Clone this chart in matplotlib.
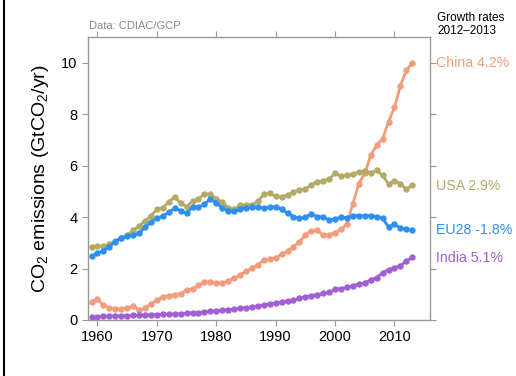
import numpy as np
import matplotlib.pyplot as plt
from matplotlib.lines import Line2D

plt.rcParams['font.family'] = ['Liberation Sans', 'DejaVu Sans']
plt.rcParams['mathtext.fontset'] = 'custom'
plt.rcParams['mathtext.rm'] = 'Liberation Sans'
plt.rcParams['mathtext.it'] = 'Liberation Sans:italic'

# Data (GtCO2/yr), 1959-2013
years = np.arange(1959, 2014)

china = [0.71, 0.80, 0.58, 0.45, 0.43, 0.43, 0.46, 0.54, 0.40, 0.47,
         0.62, 0.78, 0.90, 0.95, 0.99, 1.02, 1.17, 1.21, 1.35, 1.47,
         1.48, 1.44, 1.42, 1.53, 1.62, 1.74, 1.90, 2.02, 2.15, 2.32,
         2.38, 2.42, 2.56, 2.68, 2.85, 3.03, 3.32, 3.47, 3.48, 3.30,
         3.31, 3.40, 3.52, 3.72, 4.52, 5.30, 5.70, 6.40, 6.80, 7.05,
         7.70, 8.27, 9.10, 9.70, 10.00]

usa = [2.82, 2.88, 2.86, 2.95, 3.06, 3.17, 3.30, 3.48, 3.65, 3.85,
       4.05, 4.30, 4.35, 4.60, 4.78, 4.55, 4.40, 4.62, 4.72, 4.88,
       4.90, 4.72, 4.58, 4.35, 4.30, 4.45, 4.48, 4.48, 4.62, 4.88,
       4.95, 4.80, 4.78, 4.86, 4.98, 5.05, 5.10, 5.25, 5.38, 5.42,
       5.48, 5.70, 5.60, 5.62, 5.67, 5.76, 5.80, 5.72, 5.82, 5.62,
       5.28, 5.42, 5.30, 5.08, 5.24]

eu28 = [2.47, 2.60, 2.70, 2.85, 3.05, 3.20, 3.25, 3.30, 3.38, 3.60,
        3.80, 3.95, 4.05, 4.18, 4.35, 4.25, 4.15, 4.38, 4.38, 4.50,
        4.70, 4.55, 4.35, 4.25, 4.22, 4.30, 4.36, 4.38, 4.38, 4.36,
        4.38, 4.40, 4.30, 4.15, 4.02, 3.95, 4.00, 4.12, 4.02, 4.00,
        3.90, 3.92, 4.00, 3.98, 4.05, 4.06, 4.05, 4.06, 4.02, 3.95,
        3.62, 3.72, 3.58, 3.53, 3.48]

india = [0.12, 0.13, 0.14, 0.15, 0.16, 0.16, 0.17, 0.18, 0.18, 0.19,
         0.20, 0.21, 0.22, 0.22, 0.23, 0.24, 0.26, 0.28, 0.29, 0.31,
         0.33, 0.35, 0.37, 0.40, 0.42, 0.45, 0.48, 0.51, 0.55, 0.58,
         0.62, 0.66, 0.70, 0.74, 0.78, 0.84, 0.90, 0.95, 0.99, 1.03,
         1.07, 1.19, 1.22, 1.27, 1.33, 1.40, 1.45, 1.55, 1.65, 1.83,
         1.96, 2.03, 2.10, 2.30, 2.43]

labels = ['China 4.2%', 'USA 2.9%', 'EU28 -1.8%', 'India 5.1%']
colors = ['#F29C7E', '#B4AA68', '#2E8FF0', '#A15FD2']
label_y = [10.0, 5.2, 3.5, 2.4]

fig = plt.figure(figsize=(5.16, 3.76), dpi=100)
ax = fig.add_axes([0.1705, 0.149, 0.663, 0.7526])

for series, c in zip([china, usa, eu28, india], colors):
    ax.plot(years, series, '-o', color=c, lw=2, ms=3.6, mec=c, mfc=c)

ax.set_xlim(1958.4, 2016)
ax.set_ylim(0, 11)
ax.set_xticks(np.arange(1960, 2011, 10))
ax.set_yticks(np.arange(0, 11, 2))

for s in ax.spines.values():
    s.set_color('#999999')
    s.set_linewidth(1)
ax.tick_params(direction='out', length=4, color='#999999', labelsize=10.5,
               top=True, right=True, labeltop=False, labelright=False)

ax.set_ylabel(r'CO$_2$ emissions (GtCO$_2$/yr)', fontsize=14, labelpad=7)

for lab, c, y in zip(labels, colors, label_y):
    ax.text(1.016, y, lab, color=c, fontsize=10.2,
            transform=ax.get_yaxis_transform(), va='center', ha='left')

fig.text(0.847, 0.968, 'Growth rates\n2012\u20132013', fontsize=8.5,
         color='black', ha='left', va='top', linespacing=1.15)
fig.text(0.173, 0.918, 'Data: CDIAC/GCP', fontsize=8, color='#888888',
         ha='left', va='bottom')

# slide border on the left edge
fig.add_artist(Line2D([0.008, 0.008], [0, 1], color='black', lw=1.5,
                      transform=fig.transFigure))

fig.savefig('out.png', dpi=100)
